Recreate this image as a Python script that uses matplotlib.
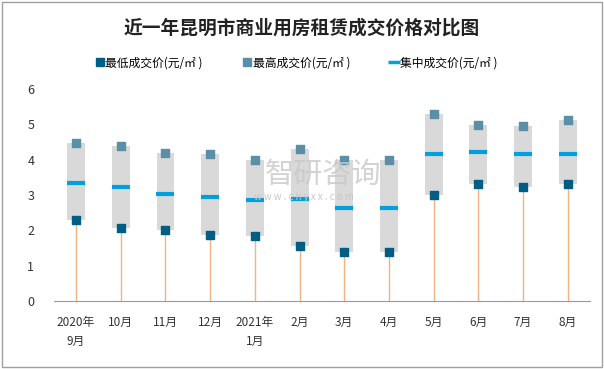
import numpy as np
import matplotlib.pyplot as plt
from matplotlib.patches import Rectangle

plt.rcParams['font.family'] = ['Noto Sans CJK SC', 'DejaVu Sans']

months = ["2020年\n9月", "10月", "11月", "12月", "2021年\n1月", "2月",
          "3月", "4月", "5月", "6月", "7月", "8月"]
low = [2.28, 2.08, 2.0, 1.88, 1.85, 1.57, 1.38, 1.38, 2.99, 3.30, 3.24, 3.30]
high = [4.48, 4.40, 4.20, 4.15, 4.00, 4.29, 4.00, 4.00, 5.30, 4.99, 4.94, 5.11]
mid = [3.35, 3.24, 3.04, 2.93, 2.85, 2.90, 2.62, 2.62, 4.15, 4.23, 4.15, 4.17]

x = np.arange(len(months))

fig = plt.figure(figsize=(6.04, 3.69), dpi=100)
ax = fig.add_axes([0.089, 0.184, 0.888, 0.575])

# grey range boxes
ax.bar(x, np.array(high) - np.array(low), bottom=low, width=0.4,
       color="#D9D9D9", zorder=1)
# drop lines
ax.vlines(x, 0, low, color="#F4B183", lw=1.0, zorder=0)
# median dash
ax.scatter(x, mid, marker="_", s=150, linewidths=3, color="#00A0DC", zorder=3)
ax.scatter(x, low, marker="s", s=28, color="#005E85", zorder=4)
ax.scatter(x, high, marker="s", s=28, color="#5B8FA8", zorder=4)

ax.set_xlim(-0.5, len(months) - 0.5)
ax.set_ylim(0, 6)
ax.set_yticks(range(7))
ax.set_xticks(x)
ax.set_xticklabels(months, fontsize=8.5, color="#333333", linespacing=1.6)
ax.tick_params(axis='y', length=0, labelsize=9, colors="#333333", pad=14)
ax.tick_params(axis='x', length=0, pad=11)
for s in ["left", "right", "top"]:
    ax.spines[s].set_visible(False)
ax.spines["bottom"].set_color("#999999")

# watermark
fig.text(0.438, 0.526, "智研咨询", fontsize=21, color="#C8C8C8", alpha=0.8,
         ha="left", va="center")
fig.text(0.42, 0.466, "w w w . c h y x x . c o m", fontsize=7, color="#C8C8C8",
         ha="left", va="center")

fig.text(0.5, 0.925, "近一年昆明市商业用房租赁成交价格对比图", fontsize=13.5,
         fontweight="bold", ha="center", va="center", color="#222222")

# legend
handles = [
    plt.Line2D([], [], marker="s", ls="", color="#005E85", markersize=5.5),
    plt.Line2D([], [], marker="s", ls="", color="#5B8FA8", markersize=5.5),
    plt.Line2D([], [], marker="_", ls="", color="#00A0DC", markersize=8, mew=2.5),
]
labels = ["最低成交价(元/㎡ )", "最高成交价(元/㎡ )", "集中成交价(元/㎡ )"]
fig.legend(handles, labels, loc="center", bbox_to_anchor=(0.49, 0.83), ncol=3,
           frameon=False, fontsize=8.5, handletextpad=0.1, columnspacing=3.3,
           handlelength=0.8)

fig.patches.append(Rectangle((0.004, 0.005), 0.992, 0.99, transform=fig.transFigure,
                             fill=False, edgecolor="#A0A0A0", lw=1))

fig.savefig("out.png", dpi=100)
